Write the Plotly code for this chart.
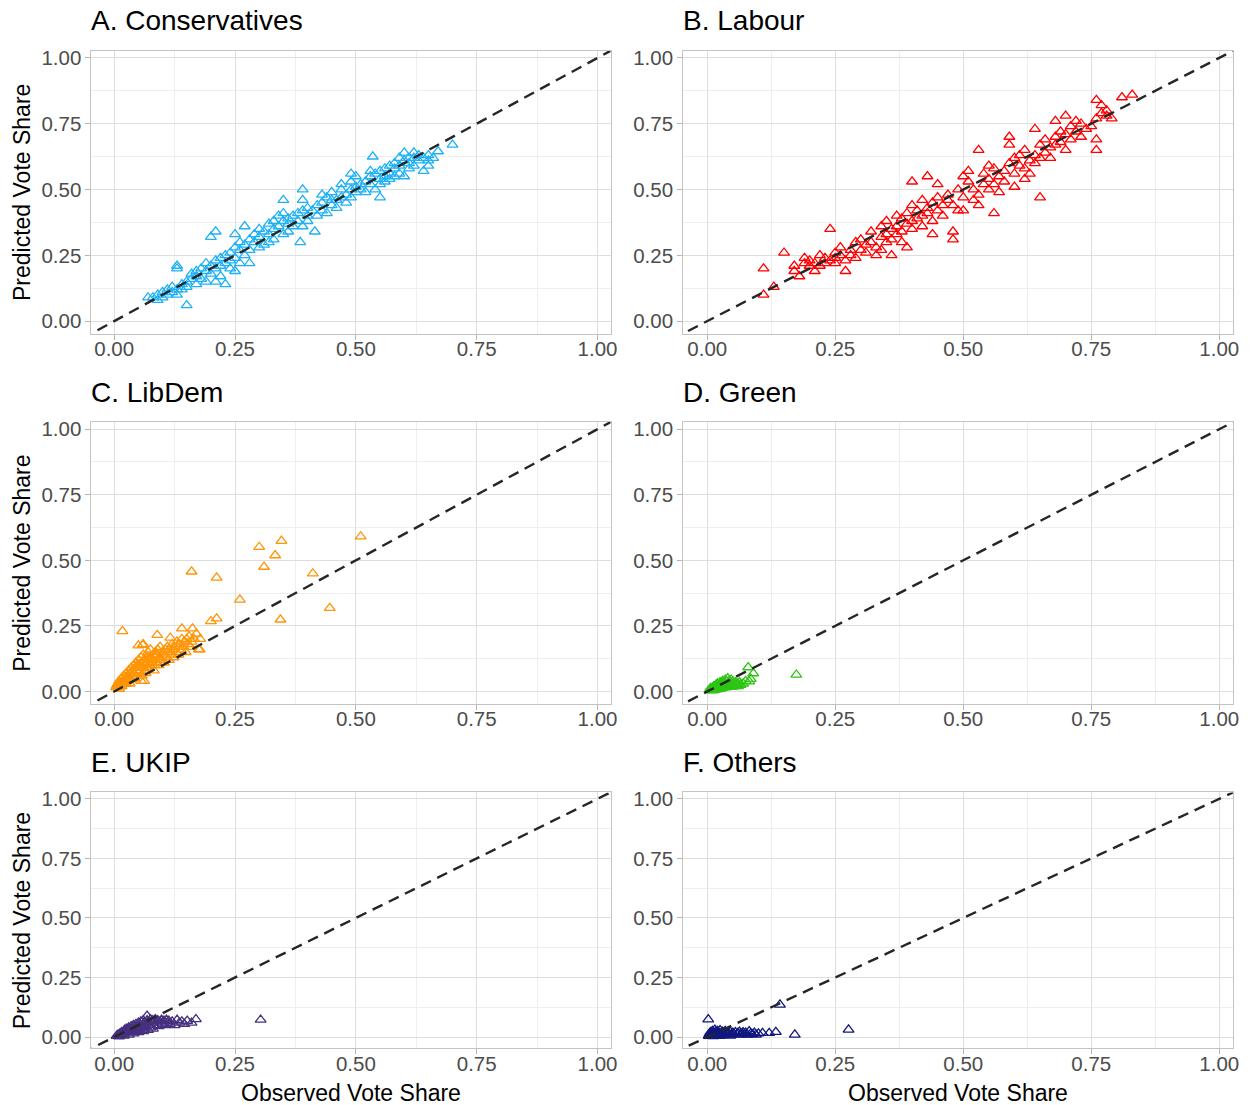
import plotly.graph_objects as go

# ---------------- data (observed, predicted) ----------------
panel_titles = ["A. Conservatives", "B. Labour", "C. LibDem", "D. Green", "E. UKIP", "F. Others"]
party_colors = ["#1EB1F4", "#FF0000", "#FF9406", "#2EC514", "#46307F", "#10187F"]
tick_vals = [0, 0.25, 0.5, 0.75, 1.0]
tick_text = ["0.00", "0.25", "0.50", "0.75", "1.00"]
ref_line = [-0.1, 1.1]

con_pairs = [
    (0.07,0.09),(0.08,0.09),(0.09,0.10),(0.09,0.08),(0.10,0.11),(0.10,0.09),(0.11,0.12),(0.11,0.10),
    (0.12,0.11),(0.12,0.13),(0.13,0.12),(0.13,0.10),(0.13,0.21),(0.13,0.20),(0.15,0.06),(0.14,0.14),
    (0.14,0.12),(0.15,0.15),(0.15,0.13),(0.16,0.16),(0.16,0.18),(0.17,0.14),(0.17,0.19),(0.17,0.17),
    (0.18,0.20),(0.18,0.16),(0.19,0.19),(0.19,0.22),(0.19,0.15),(0.20,0.21),(0.20,0.18),(0.20,0.32),
    (0.21,0.34),(0.21,0.23),(0.21,0.15),(0.21,0.20),(0.22,0.24),(0.22,0.21),(0.22,0.17),(0.23,0.14),
    (0.23,0.25),(0.23,0.22),(0.24,0.26),(0.24,0.20),(0.24,0.23),(0.25,0.28),(0.25,0.33),(0.25,0.24),
    (0.25,0.19),(0.26,0.27),(0.26,0.30),(0.26,0.22),(0.27,0.36),(0.27,0.29),(0.27,0.25),(0.28,0.31),
    (0.28,0.27),(0.28,0.22),(0.29,0.33),(0.29,0.30),(0.30,0.32),(0.30,0.28),(0.30,0.35),(0.31,0.29),
    (0.31,0.34),(0.32,0.37),(0.32,0.33),(0.32,0.30),(0.33,0.35),(0.33,0.38),(0.33,0.31),(0.34,0.36),
    (0.35,0.46),(0.34,0.40),(0.35,0.33),(0.35,0.38),(0.35,0.41),(0.36,0.37),(0.36,0.34),(0.36,0.39),
    (0.385,0.30),(0.37,0.40),(0.37,0.36),(0.39,0.50),(0.38,0.41),(0.38,0.38),(0.39,0.46),(0.39,0.42),
    (0.39,0.36),(0.40,0.40),(0.40,0.43),(0.40,0.38),(0.415,0.34),(0.41,0.42),(0.42,0.44),(0.42,0.40),
    (0.43,0.45),(0.43,0.48),(0.43,0.42),(0.44,0.47),(0.44,0.41),(0.45,0.49),(0.45,0.44),(0.45,0.46),
    (0.46,0.46),(0.46,0.43),(0.47,0.50),(0.47,0.47),(0.47,0.52),(0.48,0.48),(0.48,0.45),(0.49,0.56),
    (0.49,0.50),(0.49,0.53),(0.49,0.47),(0.50,0.51),(0.50,0.49),(0.50,0.55),(0.51,0.52),(0.51,0.50),
    (0.52,0.53),(0.52,0.49),(0.535,0.625),(0.53,0.55),(0.53,0.52),(0.53,0.57),(0.54,0.56),(0.54,0.50),
    (0.55,0.47),(0.55,0.57),(0.55,0.54),(0.55,0.52),(0.56,0.58),(0.56,0.55),(0.56,0.53),(0.57,0.59),
    (0.57,0.56),(0.57,0.54),(0.58,0.58),(0.58,0.60),(0.58,0.55),(0.59,0.59),(0.59,0.56),(0.59,0.62),
    (0.60,0.61),(0.60,0.64),(0.60,0.55),(0.61,0.60),(0.61,0.58),(0.61,0.62),(0.62,0.62),(0.62,0.59),
    (0.62,0.64),(0.63,0.61),(0.63,0.63),(0.64,0.57),(0.64,0.62),(0.65,0.59),(0.65,0.63),(0.65,0.61),
    (0.66,0.62),(0.67,0.645),(0.70,0.67),
]

lab_pairs = [
    (0.11,0.20),(0.11,0.10),(0.13,0.13),(0.15,0.26),(0.17,0.19),(0.17,0.21),(0.18,0.17),(0.19,0.22),
    (0.19,0.24),(0.20,0.21),(0.20,0.23),(0.21,0.22),(0.21,0.19),(0.22,0.25),(0.22,0.21),(0.23,0.24),
    (0.23,0.22),(0.24,0.35),(0.24,0.23),(0.25,0.26),(0.25,0.24),(0.25,0.22),(0.26,0.25),(0.26,0.28),
    (0.27,0.19),(0.27,0.23),(0.28,0.25),(0.28,0.27),(0.29,0.30),(0.29,0.24),(0.30,0.31),(0.30,0.27),
    (0.31,0.26),(0.31,0.29),(0.32,0.34),(0.32,0.30),(0.33,0.28),(0.33,0.25),(0.34,0.32),(0.34,0.36),
    (0.34,0.27),(0.35,0.38),(0.35,0.33),(0.35,0.30),(0.36,0.35),(0.36,0.31),(0.36,0.25),(0.37,0.40),
    (0.37,0.36),(0.37,0.33),(0.38,0.39),(0.38,0.34),(0.38,0.30),(0.39,0.41),(0.39,0.37),(0.39,0.28),
    (0.40,0.53),(0.40,0.44),(0.40,0.38),(0.40,0.35),(0.41,0.42),(0.41,0.39),(0.42,0.46),(0.42,0.40),
    (0.42,0.36),(0.43,0.55),(0.43,0.43),(0.43,0.41),(0.44,0.45),(0.44,0.38),(0.44,0.33),(0.45,0.47),
    (0.45,0.52),(0.45,0.42),(0.46,0.44),(0.46,0.40),(0.47,0.46),(0.47,0.48),(0.48,0.31),(0.48,0.34),
    (0.48,0.44),(0.49,0.50),(0.49,0.42),(0.50,0.55),(0.50,0.47),(0.50,0.42),(0.51,0.53),(0.51,0.57),
    (0.52,0.50),(0.52,0.46),(0.53,0.65),(0.53,0.48),(0.53,0.44),(0.54,0.52),(0.54,0.56),(0.55,0.59),
    (0.55,0.54),(0.55,0.50),(0.56,0.41),(0.56,0.58),(0.56,0.52),(0.57,0.55),(0.57,0.49),(0.58,0.57),
    (0.58,0.53),(0.59,0.70),(0.59,0.67),(0.59,0.60),(0.60,0.51),(0.60,0.62),(0.60,0.56),(0.61,0.59),
    (0.61,0.63),(0.62,0.58),(0.62,0.54),(0.62,0.65),(0.63,0.61),(0.63,0.56),(0.64,0.73),(0.64,0.63),
    (0.64,0.60),(0.65,0.67),(0.65,0.47),(0.65,0.62),(0.66,0.64),(0.66,0.69),(0.67,0.66),(0.67,0.62),
    (0.68,0.76),(0.68,0.70),(0.68,0.67),(0.69,0.72),(0.69,0.68),(0.70,0.78),(0.70,0.65),(0.70,0.71),
    (0.71,0.74),(0.71,0.69),(0.72,0.76),(0.72,0.72),(0.73,0.70),(0.73,0.75),(0.74,0.73),(0.75,0.74),
    (0.76,0.84),(0.76,0.65),(0.76,0.69),(0.76,0.77),(0.77,0.82),(0.77,0.79),(0.78,0.80),(0.78,0.78),
    (0.79,0.77),(0.81,0.85),(0.83,0.86),
]

ld_pairs = [
    (0.005,0.02),(0.008,0.03),(0.010,0.01),(0.010,0.04),(0.012,0.03),(0.015,0.05),(0.015,0.02),
    (0.018,0.04),(0.020,0.06),(0.020,0.03),(0.022,0.05),(0.025,0.07),(0.025,0.04),(0.028,0.06),
    (0.030,0.08),(0.030,0.05),(0.032,0.03),(0.035,0.07),(0.035,0.09),(0.038,0.06),(0.040,0.10),
    (0.040,0.07),(0.042,0.05),(0.045,0.08),(0.045,0.11),(0.048,0.09),(0.050,0.07),(0.050,0.12),
    (0.052,0.10),(0.055,0.08),(0.055,0.13),(0.058,0.11),(0.060,0.09),(0.060,0.14),(0.062,0.04),
    (0.063,0.12),(0.065,0.10),(0.065,0.07),(0.068,0.13),(0.070,0.11),(0.070,0.15),(0.072,0.09),
    (0.075,0.12),(0.075,0.16),(0.078,0.10),(0.080,0.14),(0.080,0.12),(0.082,0.08),(0.085,0.13),
    (0.085,0.15),(0.088,0.11),(0.090,0.14),(0.090,0.16),(0.092,0.10),(0.095,0.13),(0.095,0.17),
    (0.098,0.12),(0.100,0.15),(0.100,0.14),(0.103,0.11),(0.105,0.16),(0.108,0.13),(0.110,0.17),
    (0.110,0.15),(0.113,0.12),(0.115,0.16),(0.118,0.14),(0.120,0.18),(0.120,0.16),(0.123,0.13),
    (0.125,0.17),(0.128,0.15),(0.130,0.19),(0.130,0.17),(0.133,0.14),(0.135,0.18),(0.138,0.16),
    (0.140,0.20),(0.140,0.24),(0.143,0.17),(0.145,0.19),(0.148,0.15),(0.150,0.20),(0.152,0.18),
    (0.155,0.21),(0.158,0.17),(0.160,0.19),(0.162,0.24),(0.165,0.20),(0.170,0.22),(0.175,0.16),
    (0.177,0.16),(0.178,0.20),(0.017,0.23),(0.089,0.215),(0.116,0.205),(0.059,0.177),(0.056,0.04),
    (0.060,0.18),(0.050,0.175),(0.160,0.457),(0.212,0.434),(0.300,0.551),(0.346,0.574),(0.333,0.519),
    (0.310,0.475),(0.260,0.350),(0.411,0.450),(0.446,0.318),(0.344,0.274),(0.212,0.278),(0.200,0.268),
    (0.510,0.591),(0.004,0.015),(0.006,0.025),(0.012,0.02),(0.016,0.035),(0.020,0.045),(0.024,0.03),
    (0.027,0.055),(0.033,0.045),(0.037,0.08),(0.043,0.065),(0.047,0.10),(0.053,0.09),(0.057,0.06),
    (0.064,0.11),(0.067,0.09),(0.073,0.13),(0.077,0.11),(0.083,0.10),(0.087,0.14),(0.093,0.12),
]

grn_pairs = [
    (0.005,0.005),(0.008,0.010),(0.010,0.008),(0.010,0.015),(0.012,0.012),(0.013,0.020),(0.015,0.010),
    (0.015,0.018),(0.017,0.025),(0.018,0.015),(0.020,0.020),(0.020,0.030),(0.022,0.012),(0.023,0.025),
    (0.025,0.020),(0.025,0.035),(0.027,0.018),(0.028,0.030),(0.030,0.025),(0.030,0.040),(0.032,0.020),
    (0.033,0.035),(0.035,0.028),(0.035,0.045),(0.037,0.022),(0.038,0.038),(0.040,0.030),(0.040,0.050),
    (0.042,0.025),(0.043,0.040),(0.045,0.032),(0.045,0.020),(0.047,0.045),(0.048,0.028),(0.050,0.038),
    (0.050,0.025),(0.052,0.030),(0.055,0.035),(0.055,0.022),(0.058,0.028),(0.060,0.030),(0.063,0.035),
    (0.065,0.025),(0.080,0.092),(0.090,0.069),(0.082,0.038),(0.085,0.048),(0.174,0.064),(0.070,0.030),
    (0.075,0.040),(0.011,0.004),(0.006,0.012),(0.014,0.006),(0.019,0.008),(0.024,0.010),(0.028,0.012),
    (0.030,0.015),(0.036,0.015),(0.041,0.018),(0.048,0.017),(0.053,0.020),(0.060,0.020),
]

ukip_pairs = [
    (0.005,0.005),(0.008,0.010),(0.010,0.008),(0.012,0.015),(0.015,0.012),(0.015,0.020),(0.018,0.018),
    (0.020,0.025),(0.020,0.015),(0.022,0.030),(0.025,0.022),(0.025,0.035),(0.028,0.028),(0.030,0.040),
    (0.030,0.020),(0.032,0.033),(0.035,0.045),(0.035,0.028),(0.038,0.038),(0.040,0.050),(0.040,0.032),
    (0.042,0.025),(0.045,0.055),(0.045,0.040),(0.048,0.035),(0.050,0.060),(0.050,0.045),(0.052,0.030),
    (0.055,0.065),(0.055,0.050),(0.058,0.040),(0.060,0.070),(0.060,0.055),(0.062,0.035),(0.065,0.060),
    (0.065,0.045),(0.068,0.089),(0.068,0.070),(0.070,0.050),(0.072,0.065),(0.075,0.075),(0.075,0.040),
    (0.078,0.060),(0.080,0.070),(0.082,0.050),(0.085,0.075),(0.088,0.060),(0.090,0.070),(0.092,0.045),
    (0.095,0.065),(0.098,0.072),(0.100,0.055),(0.103,0.068),(0.105,0.050),(0.108,0.072),(0.110,0.060),
    (0.113,0.068),(0.115,0.055),(0.120,0.065),(0.125,0.050),(0.130,0.072),(0.135,0.060),(0.140,0.065),
    (0.145,0.055),(0.151,0.068),(0.160,0.060),(0.169,0.075),(0.303,0.0725),(0.010,0.003),(0.020,0.006),
    (0.030,0.010),(0.040,0.015),(0.050,0.020),(0.060,0.025),(0.070,0.030),(0.080,0.035),
]

oth_pairs = [
    (0.002,0.074),(0.003,0.005),(0.005,0.010),(0.006,0.020),(0.008,0.015),(0.010,0.008),(0.010,0.025),
    (0.012,0.018),(0.014,0.012),(0.015,0.030),(0.016,0.020),(0.018,0.010),(0.020,0.025),(0.020,0.015),
    (0.022,0.020),(0.025,0.012),(0.025,0.028),(0.028,0.018),(0.030,0.022),(0.030,0.010),(0.033,0.015),
    (0.035,0.025),(0.038,0.012),(0.040,0.020),(0.042,0.016),(0.045,0.022),(0.048,0.010),(0.050,0.018),
    (0.052,0.014),(0.055,0.020),(0.058,0.012),(0.060,0.017),(0.063,0.022),(0.065,0.010),(0.068,0.015),
    (0.070,0.020),(0.073,0.012),(0.075,0.018),(0.078,0.010),(0.082,0.024),(0.085,0.015),(0.088,0.012),
    (0.092,0.018),(0.095,0.010),(0.100,0.015),(0.108,0.017),(0.121,0.017),(0.134,0.021),(0.142,0.136),
    (0.171,0.010),(0.276,0.031),(0.004,0.012),(0.007,0.005),(0.012,0.004),(0.015,0.007),(0.017,0.015),
    (0.024,0.005),(0.032,0.008),(0.045,0.006),
]

all_pairs = [con_pairs, lab_pairs, ld_pairs, grn_pairs, ukip_pairs, oth_pairs]

# ---------------- layout geometry ----------------
W, H = 1256, 1105
col_px = [(92, 614), (687, 1240)]
row_px = [(46, 330), (419, 702), (791, 1048)]
axis_range = [-0.047, 1.027]

fig = go.Figure()
layout = dict(
    width=W, height=H, margin=dict(l=0, r=0, t=0, b=0),
    paper_bgcolor="white", plot_bgcolor="white", showlegend=False,
    font=dict(family="Liberation Sans, Arial, sans-serif", color="#4D4D4D"),
)
annotations = []

for i, pairs in enumerate(all_pairs):
    r, c = divmod(i, 2)
    k = i + 1
    xs = [p[0] for p in pairs]
    ys = [p[1] for p in pairs]
    xa = "x" if k == 1 else f"x{k}"
    ya = "y" if k == 1 else f"y{k}"
    fig.add_trace(go.Scatter(
        x=xs, y=ys, mode="markers", xaxis=xa, yaxis=ya,
        marker=dict(symbol="triangle-up-open", size=9.5, color=party_colors[i],
                    line=dict(width=1.3, color=party_colors[i])),
        hoverinfo="skip"))
    fig.add_trace(go.Scatter(
        x=ref_line, y=ref_line, mode="lines", xaxis=xa, yaxis=ya,
        line=dict(color="#262626", width=2.4, dash="11px,7px"), hoverinfo="skip"))

    x0, x1 = col_px[c]
    y0, y1 = row_px[r]
    common = dict(
        range=axis_range, tickvals=tick_vals, ticktext=tick_text,
        showgrid=True, gridcolor="#DEDEDE", gridwidth=1, zeroline=False,
        showline=True, mirror=True, linecolor="#C4C4C4", linewidth=1,
        ticks="outside", ticklen=5, tickcolor="#B3B3B3", tickwidth=1,
        tickfont=dict(size=20.5, color="#4D4D4D"),
        minor=dict(tickvals=[0.125, 0.375, 0.625, 0.875], showgrid=True,
                   gridcolor="#EFEFEF", gridwidth=1, ticks=""),
        fixedrange=True,
    )
    layout["xaxis" if k == 1 else f"xaxis{k}"] = dict(
        common, domain=[x0 / W, x1 / W], anchor=ya, ticklabelstandoff=-8)
    layout["yaxis" if k == 1 else f"yaxis{k}"] = dict(
        common, domain=[1 - y1 / H, 1 - y0 / H], anchor=xa)

    annotations.append(dict(
        text=panel_titles[i], xref="paper", yref="paper",
        x=(x0 - 2) / W, y=1 - (y0 - 30) / H, xanchor="left", yanchor="middle",
        showarrow=False, font=dict(size=28, color="#000000")))
    if c == 0:
        annotations.append(dict(
            text="Predicted Vote Share", xref="paper", yref="paper",
            x=22 / W, y=1 - ((y0 + y1) / 2) / H, xanchor="center", yanchor="middle",
            textangle=-90, showarrow=False, font=dict(size=23, color="#000000")))
    if r == 2:
        annotations.append(dict(
            text="Observed Vote Share", xref="paper", yref="paper",
            x=((x0 + x1) / 2) / W, y=1 - 1093 / H, xanchor="center", yanchor="middle",
            showarrow=False, font=dict(size=23, color="#000000")))

layout["annotations"] = annotations
fig.update_layout(**layout)
fig.write_html("out.html")
